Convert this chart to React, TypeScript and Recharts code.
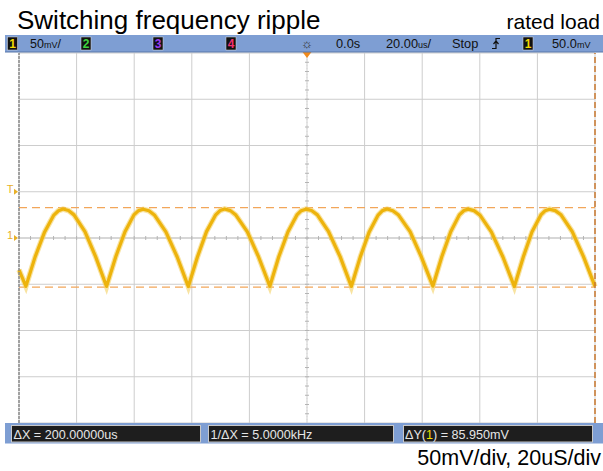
import React from "react";
import { LineChart, Line, XAxis, YAxis, CartesianGrid, ReferenceLine, ReferenceDot } from "recharts";

// time axis in microseconds (20us/div, 10 div), voltage in mV (50mV/div, 8 div)
const xTicks = [0, 20, 40, 60, 80, 100, 120, 140, 160, 180, 200];
const yTicks = [-200, -150, -100, -50, 0, 50, 100, 150, 200];

// ripple trace
const timeUs = [
  0, 2.4, 5.6, 8.9, 12.1, 13.7, 15.3, 17.2, 19.1, 22.9, 26.6,
  30.4, 33.6, 36.8, 39.9, 41.5, 43.1, 45.1, 47.0, 51.0, 54.9,
  58.8, 62.0, 65.1, 68.3, 69.8, 71.4, 73.4, 75.3, 79.3, 83.2,
  87.1, 90.2, 93.4, 96.5, 98.0, 99.6, 101.6, 103.6, 107.5, 111.5,
  115.4, 118.5, 121.6, 124.7, 126.2, 127.8, 129.8, 131.8, 135.8, 139.7,
  143.7, 146.8, 149.9, 152.9, 154.5, 156.0, 158.0, 160.0, 164.0, 168.0,
  172.0, 175.1, 178.1, 181.2, 182.7, 184.2, 186.2, 188.2, 192.1, 196.0,
  200.0,
];
const rippleMv = [
  -34.5, -52.2, -20.4, 6.6, 24.8, 29.5, 31.3, 29.7, 25.0, 6.9, -20.1,
  -52.4, -20.2, 6.8, 25.0, 29.6, 31.1, 29.5, 24.9, 6.6, -20.3,
  -52.5, -20.1, 6.9, 25.1, 29.7, 31.4, 29.6, 24.8, 6.7, -20.5,
  -52.2, -20.3, 6.7, 24.9, 29.5, 31.2, 29.7, 25.0, 6.8, -20.2,
  -52.4, -20.4, 6.6, 24.8, 29.6, 31.3, 29.5, 24.8, 6.9, -20.4,
  -52.1, -20.2, 6.8, 25.0, 29.7, 31.2, 29.6, 24.9, 6.7, -20.3,
  -52.5, -20.5, 6.5, 24.9, 29.5, 31.1, 29.6, 25.1, 6.9, -20.1,
  -52.3,
];

const cursorTopMv = 32.9;
const cursorBottomMv = -53.05;
const triggerLevelMv = 50;
const channelOffsetMv = 0;
const xCursorsUs = [0, 200];

const data = timeUs.map((t, i) => ({ t, v: rippleMv[i] }));

const TRACE = "#EDB30C";
const CURSOR = "#F2A65A";

// grid on every division, placed inside the plot area
const vGrid = ({ offset }: any) => xTicks.map((t) => offset.left + (offset.width * t) / 200);
const hGrid = ({ offset }: any) => yTicks.map((t) => offset.top + (offset.height * (200 - t)) / 400);

const CenterH = (p: any) => {
  const { x1, x2, y1 } = p;
  const n = 50;
  const marks = [];
  for (let i = 1; i < n; i++) {
    const x = x1 + ((x2 - x1) * i) / n;
    marks.push(<line key={i} x1={x} x2={x} y1={y1 - 2} y2={y1 + 2} stroke="#B4B4B4" strokeWidth={1} />);
  }
  return (
    <g>
      <line x1={x1} x2={x2} y1={y1} y2={y1} stroke="#C8C8C8" strokeWidth={1} />
      {marks}
    </g>
  );
};

const CenterV = (p: any) => {
  const { x1, y1, y2 } = p;
  const top = Math.min(y1, y2);
  const bot = Math.max(y1, y2);
  const n = 40;
  const marks = [];
  for (let i = 1; i < n; i++) {
    const y = top + ((bot - top) * i) / n;
    marks.push(<line key={i} x1={x1 - 2} x2={x1 + 2} y1={y} y2={y} stroke="#B4B4B4" strokeWidth={1} />);
  }
  return (
    <g>
      <line x1={x1} x2={x1} y1={top} y2={bot} stroke="#D8D8D8" strokeWidth={1} strokeDasharray="1 2" />
      {marks}
      <path d={`M${x1 - 4.5} ${top - 1} L${x1 + 4.5} ${top - 1} L${x1} ${top + 5} Z`} fill="#F08A1C" />
    </g>
  );
};

const LeftMarker = ({ cx, cy, label }: any) => (
  <g>
    <text x={cx - 9} y={cy + 1} fontSize={11} fill="#E8B028" textAnchor="middle" fontFamily="Liberation Sans, Arial, sans-serif">
      {label}
    </text>
    <path d={`M${cx - 5} ${cy - 3} L${cx - 1} ${cy} L${cx - 5} ${cy + 3} Z`} fill="#E8B028" />
  </g>
);

const ChBox = ({ x, label, color }: any) => (
  <g>
    <rect x={x} y={37} width={10} height={13} fill="#111" stroke="#ddd" strokeWidth={0.5} />
    <text x={x + 5} y={47.5} fontSize={12} fill={color} textAnchor="middle" fontWeight="bold">
      {label}
    </text>
  </g>
);

export default function App() {
  return (
    <div style={{ position: "absolute", left: 0, top: 0, width: 603, height: 471, background: "#fff", overflow: "hidden" }}>
      <LineChart width={603} height={471} data={data} margin={{ top: 53, right: 8, bottom: 48, left: 19 }}>
        <XAxis dataKey="t" type="number" domain={[0, 200]} ticks={xTicks} hide />
        <YAxis type="number" domain={[-200, 200]} ticks={yTicks} hide />
        <CartesianGrid
          stroke="#CDCDCD"
          strokeWidth={1}
          verticalCoordinatesGenerator={vGrid}
          horizontalCoordinatesGenerator={hGrid}
        />
        <ReferenceLine y={0} shape={CenterH} />
        <ReferenceLine x={100} shape={CenterV} />
        <ReferenceLine y={cursorTopMv} stroke={CURSOR} strokeWidth={1.2} strokeDasharray="8 5" />
        <ReferenceLine y={cursorBottomMv} stroke={CURSOR} strokeWidth={1.2} strokeDasharray="8 5" />
        <Line type="linear" dataKey="v" stroke="#F4D060" strokeWidth={5.5} strokeOpacity={0.6} dot={false} isAnimationActive={false} />
        <Line type="linear" dataKey="v" stroke={TRACE} strokeWidth={3.2} strokeLinejoin="round" dot={false} isAnimationActive={false} />
        <ReferenceLine x={xCursorsUs[0]} stroke="#8A8A8A" strokeWidth={1.5} strokeDasharray="3 1" />
        <ReferenceLine x={xCursorsUs[1]} stroke="#C9782E" strokeWidth={1.5} strokeDasharray="6 3" />
        <ReferenceDot x={0} y={triggerLevelMv} r={0} shape={(p: any) => <LeftMarker {...p} label="T" />} />
        <ReferenceDot x={0} y={channelOffsetMv} r={0} shape={(p: any) => <LeftMarker {...p} label="1" />} />
      </LineChart>

      <svg width={603} height={471} style={{ position: "absolute", left: 0, top: 0, pointerEvents: "none" }} fontFamily="Liberation Sans, Arial, sans-serif">
        <text x={17} y={29} fontSize={26} fill="#000">Switching frequency ripple</text>
        <text x={600} y={29} fontSize={21} fill="#000" textAnchor="end">rated load</text>

        {/* top status bar */}
        <rect x={5} y={35} width={598} height={17} fill="#7E9ED3" />
        <line x1={5} x2={603} y1={52} y2={52} stroke="#5876A8" strokeWidth={1} />
        <ChBox x={7.5} label="1" color="#F2D800" />
        <text x={30} y={48} fontSize={12.5} fill="#111">50<tspan fontSize={9}>mV</tspan>/</text>
        <ChBox x={81} label="2" color="#3ED43E" />
        <ChBox x={153} label="3" color="#9A3CF0" />
        <ChBox x={226} label="4" color="#F03070" />
        <text x={307} y={48} fontSize={13} fill="#333" textAnchor="middle">☼</text>
        <text x={336} y={48} fontSize={12.8} fill="#111">0.0s</text>
        <text x={386} y={48} fontSize={12.8} fill="#111">20.00<tspan fontSize={9}>us</tspan>/</text>
        <text x={452} y={48} fontSize={12.8} fill="#111">Stop</text>
        <path d="M492 48.5 H496 V38.5 H500 M493.5 44 L496 41 L498.5 44" stroke="#111" strokeWidth={1.2} fill="none" />
        <ChBox x={523} label="1" color="#F2D800" />
        <text x={552} y={48} fontSize={12.8} fill="#111">50.0<tspan fontSize={9}>mV</tspan></text>

        {/* bottom measurement bar */}
        <rect x={5} y={423} width={598} height={20.5} fill="#7E9ED3" />
        <rect x={11.5} y={425.5} width={189} height={16.5} fill="#1E1E1E" stroke="#C8C8C8" strokeWidth={1} />
        <rect x={208.5} y={425.5} width={185} height={16.5} fill="#1E1E1E" stroke="#C8C8C8" strokeWidth={1} />
        <rect x={403.5} y={425.5} width={189} height={16.5} fill="#1E1E1E" stroke="#C8C8C8" strokeWidth={1} />
        <text x={13.5} y={438.5} fontSize={12.6} fill="#E6E6E6">ΔX = 200.00000us</text>
        <text x={210.5} y={438.5} fontSize={12.6} fill="#E6E6E6">1/ΔX = 5.0000kHz</text>
        <text x={405} y={438.5} fontSize={12.6} fill="#E6E6E6">
          ΔY(<tspan fill="#F2E000">1</tspan>) = 85.950mV
        </text>

        <text x={601} y={465} fontSize={21.5} fill="#000" textAnchor="end">50mV/div, 20uS/div</text>
      </svg>
    </div>
  );
}
